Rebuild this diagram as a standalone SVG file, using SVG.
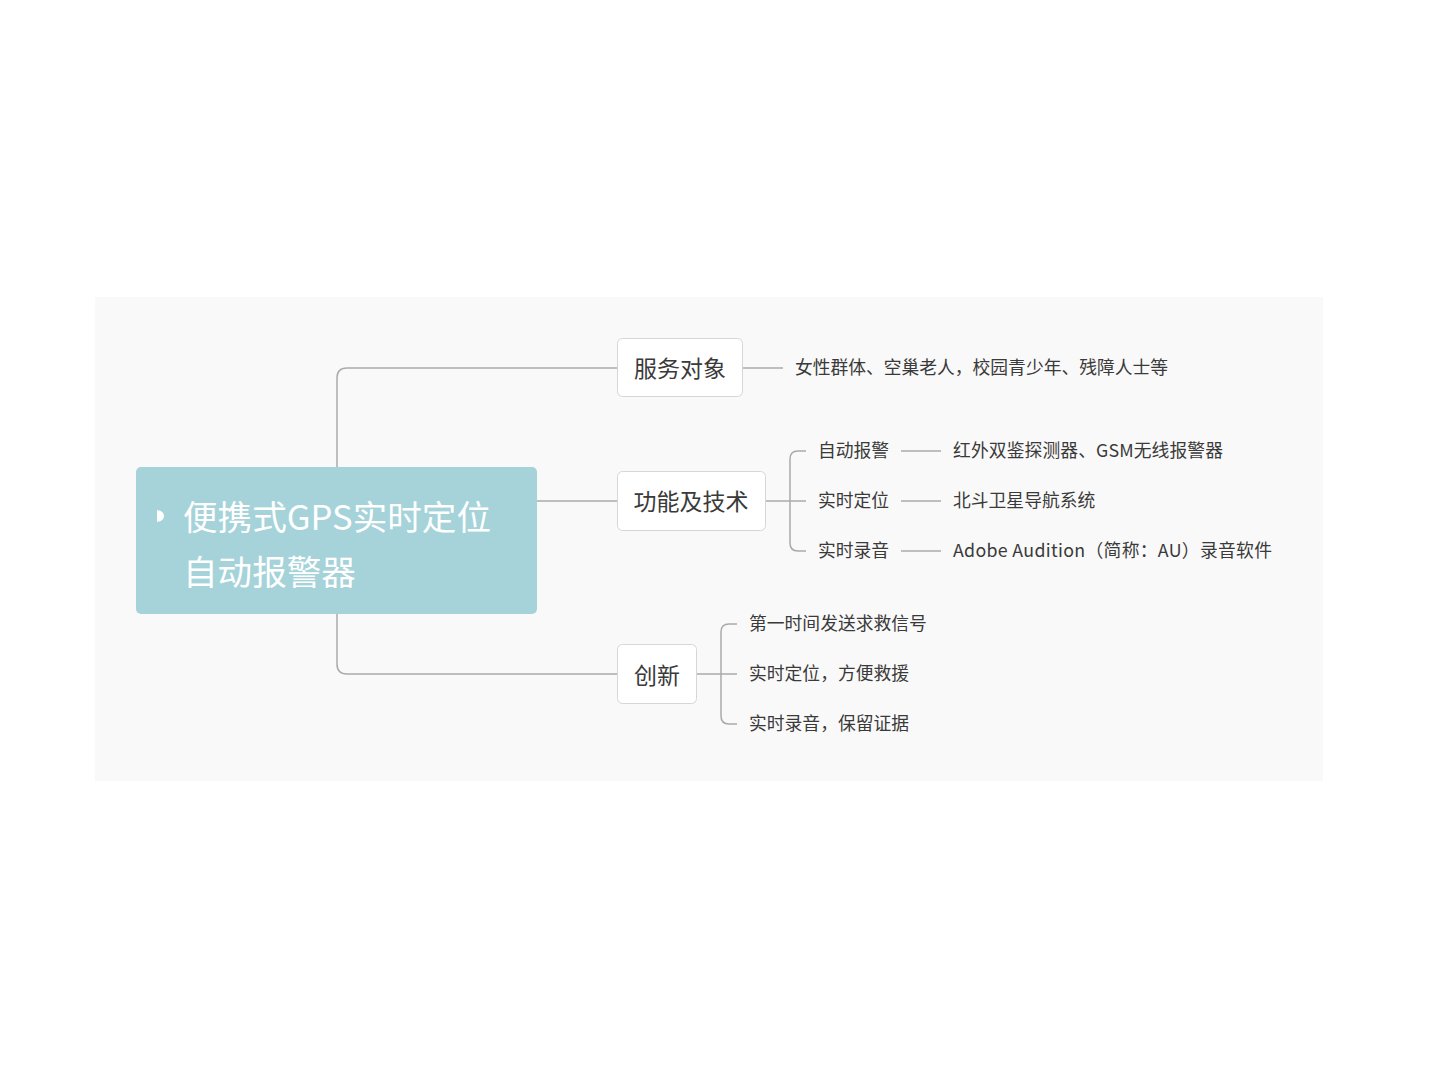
<svg xmlns="http://www.w3.org/2000/svg" width="1429" height="1072" viewBox="0 0 1429 1072">
<style>
.bg{fill:#f9f9f9}
.ln{fill:none;stroke:#aaaaaa;stroke-width:1.5}
.box{fill:#ffffff;stroke:#d6d6d6;stroke-width:1}
.t{font-family:"Noto Sans CJK SC","Microsoft YaHei",sans-serif;fill:#3a3a3a}
.n{font-size:23px;text-anchor:middle}
.s{font-size:17.8px}
.root{font-family:"Noto Sans CJK SC",sans-serif;fill:#ffffff;font-size:34.6px}
</style>
<rect x="0" y="0" width="1429" height="1072" fill="#ffffff"/>
<rect class="bg" x="95" y="297" width="1228" height="484"/>
<g id="connectors">
<path class="ln" d="M337,467 V378 Q337,368 347,368 H617"/>
<path class="ln" d="M337,614 V664 Q337,674 347,674 H617"/>
<path class="ln" d="M537,501 H617"/>
<path class="ln" d="M742,368 H783"/>
<path class="ln" d="M765,501 H806"/>
<path class="ln" d="M806,451 H798 Q790,451 790,459 V543 Q790,551 798,551 H806"/>
<path class="ln" d="M901,451 H941"/>
<path class="ln" d="M901,501 H941"/>
<path class="ln" d="M901,551 H941"/>
<path class="ln" d="M696,674 H737"/>
<path class="ln" d="M737,624 H729 Q721,624 721,632 V716 Q721,724 729,724 H737"/>
</g>
<g id="root">
<rect x="136" y="467" width="401" height="147" rx="5" fill="#a5d3d9"/>
<path d="M157,510 Q164,511 164,516 Q164,521 157,522 Z" fill="#ffffff"/>
<text class="root" x="183" y="530" textLength="308" lengthAdjust="spacingAndGlyphs">便携式GPS实时定位</text>
<text class="root" x="183" y="585">自动报警器</text>
</g>
<g id="n1">
<rect class="box" x="617.5" y="338.5" width="125" height="58" rx="5"/>
<text class="t n" x="680" y="377">服务对象</text>
</g>
<g id="n1a"><text class="t s" x="795" y="374" textLength="373">女性群体、空巢老人，校园青少年、残障人士等</text></g>
<g id="n2">
<rect class="box" x="617.5" y="471.5" width="148" height="59" rx="5"/>
<text class="t n" x="691" y="510">功能及技术</text>
</g>
<g id="n2a"><text class="t s" x="818" y="457">自动报警</text></g>
<g id="n2a1"><text class="t s" x="953" y="457" textLength="270">红外双鉴探测器、GSM无线报警器</text></g>
<g id="n2b"><text class="t s" x="818" y="507">实时定位</text></g>
<g id="n2b1"><text class="t s" x="953" y="507">北斗卫星导航系统</text></g>
<g id="n2c"><text class="t s" x="818" y="557">实时录音</text></g>
<g id="n2c1"><text class="t s" x="953" y="557" textLength="319">Adobe Audition（简称：AU）录音软件</text></g>
<g id="n3">
<rect class="box" x="617.5" y="644.5" width="79" height="59" rx="5"/>
<text class="t n" x="657" y="684">创新</text>
</g>
<g id="n3a"><text class="t s" x="749" y="630">第一时间发送求救信号</text></g>
<g id="n3b"><text class="t s" x="749" y="680">实时定位，方便救援</text></g>
<g id="n3c"><text class="t s" x="749" y="730">实时录音，保留证据</text></g>
</svg>
